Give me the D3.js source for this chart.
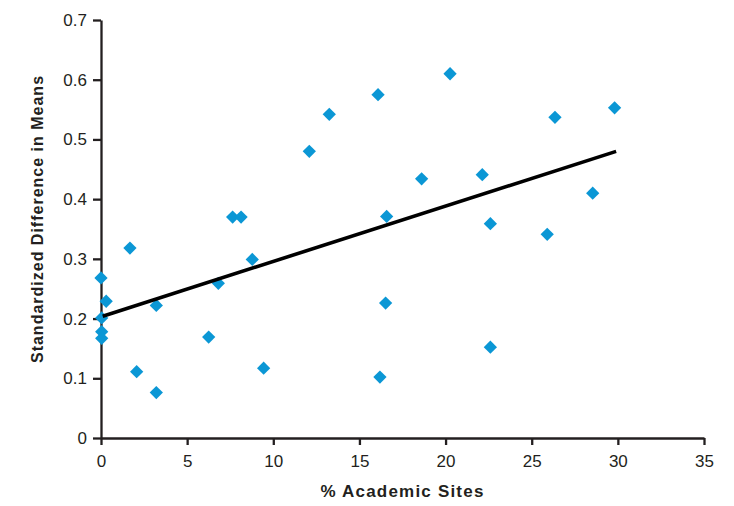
<!DOCTYPE html>
<html>
<head>
<meta charset="utf-8">
<script src="https://cdn.jsdelivr.net/npm/d3@7"></script>
<style>
  body { margin: 0; background: #fff; }
  svg text { font-family: "Liberation Sans", Arial, sans-serif; fill: #231f20; }
</style>
</head>
<body>
<svg id="chart"></svg>
<script>
const academicPct = [0, 0.3, 0.04, 0.04, 0.04, 1.68, 2.07, 3.21, 3.21, 6.25, 6.81, 7.64, 8.13, 8.78, 9.44,
  12.09, 13.25, 16.08, 16.58, 16.52, 16.19, 18.61, 20.26, 22.13, 22.6, 22.6, 25.9, 26.35, 28.54, 29.81];
const stdDiff = [0.268, 0.229, 0.201, 0.178, 0.167, 0.318, 0.111, 0.222, 0.076, 0.169, 0.259, 0.370, 0.370, 0.299, 0.117,
  0.480, 0.542, 0.575, 0.371, 0.226, 0.102, 0.434, 0.610, 0.441, 0.359, 0.152, 0.341, 0.537, 0.410, 0.553];
const trendX = [0.1, 29.9];
const trendY = [0.204, 0.480];
const xTicks = [0, 5, 10, 15, 20, 25, 30, 35];
const yTicks = [0, 0.1, 0.2, 0.3, 0.4, 0.5, 0.6, 0.7];

const margin = { top: 20, right: 30, bottom: 68, left: 101 };
const width = 734 - margin.left - margin.right;
const height = 506 - margin.top - margin.bottom;

const svg = d3.select("#chart")
    .attr("width", 734)
    .attr("height", 506)
    .append("g")
    .attr("transform", `translate(${margin.left}, ${margin.top})`);

const x = d3.scaleLinear().domain([0, 35]).range([0, 603]);
const y = d3.scaleLinear().domain([0, 0.7]).range([height, 0]);

const xAxis = svg.append("g")
    .attr("transform", `translate(0, ${height})`)
    .call(d3.axisBottom(x).tickValues(xTicks).tickSize(7).tickPadding(10).tickSizeOuter(0));
xAxis.selectAll("text").style("font-size", "17px");

const yAxis = svg.append("g")
    .call(d3.axisLeft(y).tickValues(yTicks).tickFormat(d => d === 0 ? "0" : d3.format(".1f")(d)).tickSize(8).tickPadding(6).tickSizeOuter(0));
yAxis.selectAll("text").style("font-size", "17px");

svg.selectAll(".domain, .tick line")
    .attr("stroke", "#231f20")
    .attr("stroke-width", 2.3);

svg.selectAll(".pt")
    .data(academicPct)
    .enter()
    .append("path")
    .attr("class", "pt")
    .attr("d", d3.symbol().type(d3.symbolSquare).size(88))
    .attr("transform", (d, i) => `translate(${x(d)}, ${y(stdDiff[i])}) rotate(45)`)
    .attr("fill", "#0b97d5");

svg.append("path")
    .datum(trendX.map((d, i) => [d, trendY[i]]))
    .attr("fill", "none")
    .attr("stroke", "#000")
    .attr("stroke-width", 3.6)
    .attr("d", d3.line().x(d => x(d[0])).y(d => y(d[1])));

svg.append("text")
    .attr("x", x(17.5))
    .attr("y", height + 59)
    .attr("text-anchor", "middle")
    .style("font-size", "17px")
    .style("font-weight", "bold")
    .style("letter-spacing", "1.2px")
    .text("% Academic Sites");

svg.append("text")
    .attr("transform", `translate(-58, ${height / 2 - 10}) rotate(-90)`)
    .attr("text-anchor", "middle")
    .style("font-size", "16px")
    .style("font-weight", "bold")
    .style("letter-spacing", "1px")
    .text("Standardized Difference in Means");
</script>
</body>
</html>
